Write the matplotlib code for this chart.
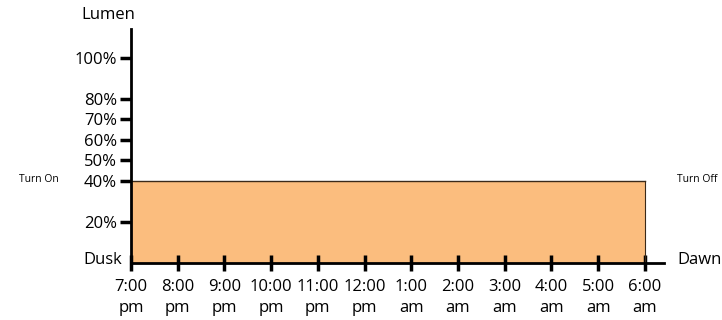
import matplotlib.pyplot as plt

plt.rcParams['font.family'] = ['Open Sans', 'DejaVu Sans']

# data
hours = [0, 1, 2, 3, 4, 5, 6, 7, 8, 9, 10, 11]
hour_labels = ["7:00\npm", "8:00\npm", "9:00\npm", "10:00\npm", "11:00\npm", "12:00\npm",
               "1:00\nam", "2:00\nam", "3:00\nam", "4:00\nam", "5:00\nam", "6:00\nam"]
lumen = [40] * len(hours)
y_ticks = [20, 40, 50, 60, 70, 80, 100]
y_labels = ["20%", "40%", "50%", "60%", "70%", "80%", "100%"]

fig = plt.figure(figsize=(7.22, 3.2), dpi=100)
ax = fig.add_axes([131/722, 57/320, (664-131)/722, (263-29)/320])

ax.fill_between(hours, lumen, 0, color="#fbbd7e", lw=0)
ax.plot(hours, lumen, color="#3a2a1a", lw=1)
ax.plot([hours[-1], hours[-1]], [0, lumen[-1]], color="#3a2a1a", lw=0.8)

ax.set_xlim(0, 11.41)
ax.set_ylim(0, 114)
for s in ["top", "right"]:
    ax.spines[s].set_visible(False)
ax.spines["left"].set_linewidth(2)
ax.spines["bottom"].set_linewidth(2)

ax.set_xticks(hours)
ax.set_xticklabels(hour_labels, fontsize=12, linespacing=1.4)
ax.tick_params(axis="x", direction="inout", length=11, width=2.5, pad=6)
ax.set_yticks(y_ticks)
ax.set_yticklabels(y_labels, fontsize=12)
ax.tick_params(axis="y", direction="out", length=8, width=2.5, pad=2)

fig.text(108/722, 1 - 15/320, "Lumen", fontsize=12, ha="center", va="center")
fig.text(103/722, 1 - 260/320, "Dusk", fontsize=12, ha="center", va="center")
fig.text(700/722, 1 - 260/320, "Dawn", fontsize=12, ha="center", va="center")
fig.text(39/722, 1 - 180/320, "Turn On", fontsize=7.5, ha="center", va="center")
fig.text(697/722, 1 - 180/320, "Turn Off", fontsize=7.5, ha="center", va="center")

fig.savefig("out.png", dpi=100)
